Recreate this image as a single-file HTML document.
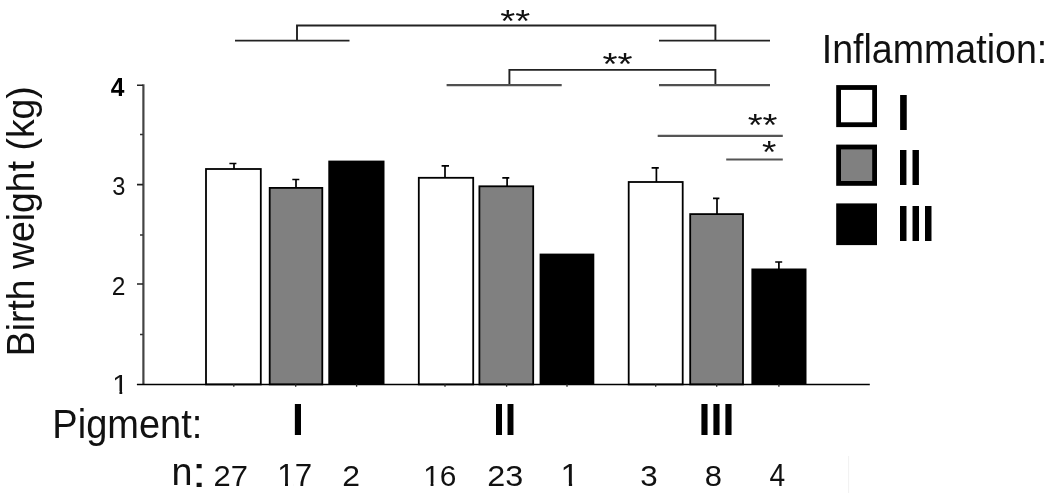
<!DOCTYPE html>
<html>
<head>
<meta charset="utf-8">
<title>Birth weight by pigment and inflammation</title>
<style>
  html, body { margin: 0; padding: 0; background: #ffffff; }
  body { width: 1050px; height: 493px; overflow: hidden; position: relative; }
  svg { position: absolute; left: 0; top: 0; display: block; filter: blur(0.4px); }
  text { font-family: "Liberation Sans", Arial, Helvetica, sans-serif; fill: #111; }
  .b { font-weight: bold; fill: #000; }
</style>
</head>
<body>
<svg width="1050" height="493" viewBox="0 0 1050 493">
  <rect x="0" y="0" width="1050" height="493" fill="#ffffff"/>

  <!-- bars -->
  <g stroke="#000" stroke-width="1.8">
    <rect x="206" y="169" width="54.8" height="215.4" fill="#fff"/>
    <rect x="269.7" y="187.9" width="52.6" height="196.5" fill="#808080"/>
    <rect x="418.8" y="177.8" width="54.4" height="206.6" fill="#fff"/>
    <rect x="479.4" y="186.3" width="53.8" height="198.1" fill="#808080"/>
    <rect x="628.7" y="182" width="54" height="202.4" fill="#fff"/>
    <rect x="690.2" y="214.1" width="52.8" height="170.3" fill="#808080"/>
  </g>
  <g fill="#000">
    <rect x="328.3" y="160.6" width="56.2" height="223.8"/>
    <rect x="539.6" y="253.6" width="54.7" height="130.8"/>
    <rect x="751.4" y="268.5" width="55.1" height="115.9"/>
  </g>

  <!-- error bars -->
  <g stroke="#000" stroke-width="1.7" fill="none">
    <path d="M234 169 V163.5 M229.4 163.5 H236.4"/>
    <path d="M296 188 V179.5 M292.3 179.5 H299.3"/>
    <path d="M445 178 V165.9 M441.6 165.9 H449"/>
    <path d="M507.1 186.5 V177.8 M502.3 177.8 H509.3"/>
    <path d="M656.4 182 V167.8 M651.6 167.8 H658.8"/>
    <path d="M717 214 V198.3 M713 198.3 H719.4"/>
    <path d="M778.9 269 V262 M775.2 262 H782.2"/>
  </g>

  <!-- axes -->
  <g fill="none">
    <path d="M143.4 84.3 V384.5" stroke="#444" stroke-width="2.2"/>
    <path d="M136.9 384.5 H869.8" stroke="#000" stroke-width="1.6"/>
    <path d="M137 85.2 H143 M137 184.6 H143 M137 284 H143" stroke="#222" stroke-width="1.6"/>
    <path d="M140 134.5 H143 M140 235 H143 M140 334.5 H143" stroke="#333" stroke-width="1.4"/>
    <path d="M233.8 384 V386.8 M295.7 384 V386.8 M356.6 384 V386.8 M445 384 V386.8 M506.6 384 V386.8 M567 384 V386.8 M655.7 384 V386.8 M716.7 384 V386.8 M778.9 384 V386.8" stroke="#222" stroke-width="1.3"/>
  </g>

  <!-- significance brackets -->
  <g stroke="#222" stroke-width="1.9" fill="none">
    <path d="M235 40.6 H349.5 M659 40.6 H770"/>
    <path d="M297 40.6 V25.5 H715.4 V40.6"/>
    <path d="M509.4 85 V69.9 H715.4 V85"/>
  </g>
  <g stroke="#505050" stroke-width="2.2" fill="none">
    <path d="M446.6 85.1 H561.7 M659 85.1 H770"/>
  </g>
  <g stroke="#555" stroke-width="2.2" fill="none">
    <path d="M657.7 135.9 H782.8"/>
    <path d="M726.2 159.5 H782.8"/>
  </g>
  <path d="M848.6 456 V493" stroke="#f1f1f1" stroke-width="1" fill="none"/>

  <!-- legend swatches -->
  <rect x="838.6" y="87.5" width="36" height="37.2" fill="#fff" stroke="#000" stroke-width="4.8"/>
  <rect x="838.6" y="147" width="36" height="36.4" fill="#808080" stroke="#000" stroke-width="4.8"/>
  <rect x="836.2" y="203.4" width="40.8" height="41.7" fill="#000"/>

  <!-- text labels -->
  <defs>
    <clipPath id="c1a"><polygon transform="scale(25)" points="-0.05,-1 0.6,-1 0.6,-0.105 0.345,-0.105 0.345,0.1 0.248,0.1 0.248,-0.105 -0.05,-0.105"/></clipPath>
    <clipPath id="c1b"><polygon transform="scale(29)" points="-0.05,-1 0.6,-1 0.6,-0.105 0.345,-0.105 0.345,0.1 0.248,0.1 0.248,-0.105 -0.05,-0.105"/></clipPath>
    <clipPath id="c1x"><polygon transform="scale(29)" points="-0.05,-1 1.2,-1 1.2,0.1 0.53,0.1 0.53,-0.105 0.345,-0.105 0.345,0.1 0.248,0.1 0.248,-0.105 -0.05,-0.105"/></clipPath>
  </defs>
  <text font-size="40" transform="translate(500.28 32.4) scale(0.961 0.807)">**</text>
  <text font-size="40" transform="translate(602.38 74.6) scale(0.965 0.8)">**</text>
  <text font-size="40" transform="translate(747.68 136.1) scale(0.958 0.807)">**</text>
  <text font-size="40" transform="translate(762.01 162.7) scale(0.921 0.8)">*</text>
  <text class="b" font-size="25" transform="translate(110.81 96.0) scale(0.981 1.055)">4</text>
  <text font-size="25" transform="translate(112.26 194.75) scale(0.945 0.997)">3</text>
  <text font-size="25" transform="translate(111.77 294.7) scale(0.983 1.051)">2</text>
  <text clip-path="url(#c1a)" font-size="25" transform="translate(112.32 393.9) scale(1.15 1.078)">1</text>
  <text font-size="39" transform="translate(821.72 63.2) scale(0.964 1.047)">Inflammation:</text>
  <text class="b" font-size="46" transform="translate(896.88 130.3) scale(1.007 1.089)">I</text>
  <text class="b" font-size="46" transform="translate(896.98 184.6) scale(0.974 1.073)">II</text>
  <text class="b" font-size="46" transform="translate(896.96 240.6) scale(0.98 1.083)">III</text>
  <text font-size="39" transform="translate(52.33 438.4) scale(0.975 1.047)">Pigment:</text>
  <text class="b" font-size="42" transform="translate(292.0 435.2) scale(1.017 1.075)">I</text>
  <text class="b" font-size="42" transform="translate(493.29 435.3) scale(0.986 1.078)">II</text>
  <text class="b" font-size="42" transform="translate(698.58 435.3) scale(1.024 1.078)">III</text>
  <text font-size="41" transform="translate(171.47 484.5) scale(0.92 0.95)">n</text>
  <text font-size="41" transform="translate(191.72 487.1) scale(1.3 1.016)">:</text>
  <text font-size="29" transform="translate(213.5 485.9) scale(1.067 1.032)">27</text>
  <text clip-path="url(#c1x)" font-size="29" transform="translate(277.23 485.9) scale(1.079 1.065)">17</text>
  <text font-size="29" transform="translate(342.15 485.9) scale(1.102 1.032)">2</text>
  <text clip-path="url(#c1x)" font-size="29" transform="translate(423.17 485.84) scale(1.03 1.049)">16</text>
  <text font-size="29" transform="translate(487.23 485.84) scale(1.115 1.049)">23</text>
  <text clip-path="url(#c1b)" font-size="29" transform="translate(560.6 485.9) scale(1.15 1.055)">1</text>
  <text font-size="29" transform="translate(640.15 485.84) scale(1.081 1.039)">3</text>
  <text font-size="29" transform="translate(704.67 485.84) scale(1.067 1.039)">8</text>
  <text font-size="29" transform="translate(769.47 485.9) scale(0.972 1.055)">4</text>
  <text font-size="38.4" transform="translate(33.6 356.3) rotate(-90) scale(0.974 1)">Birth weight (kg)</text>
</svg>
</body>
</html>
